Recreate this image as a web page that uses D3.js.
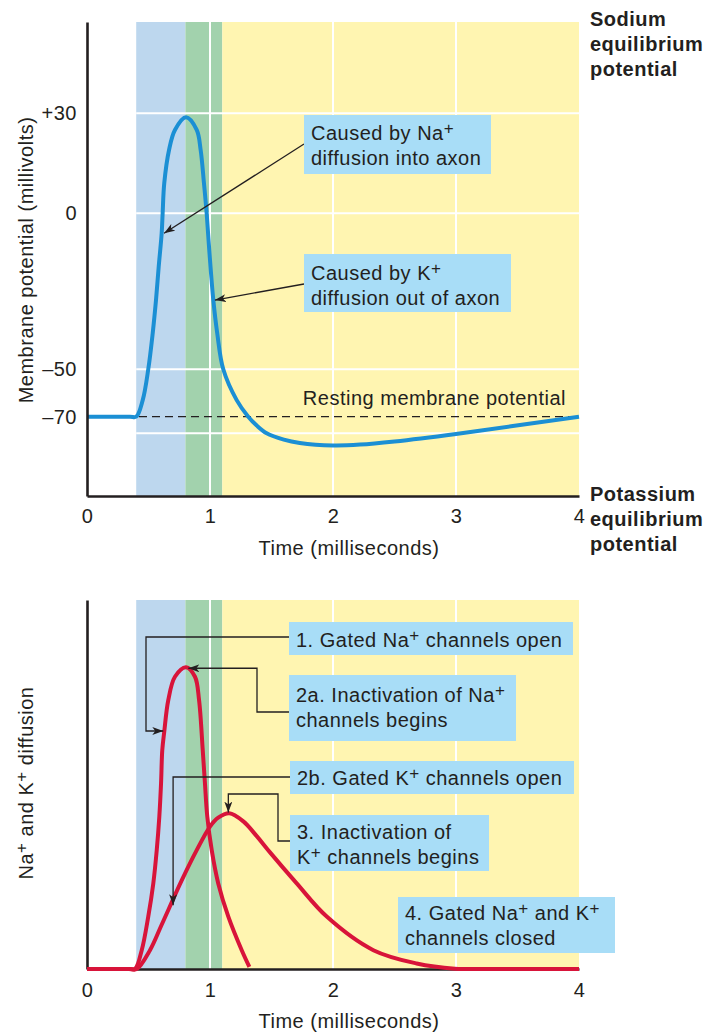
<!DOCTYPE html>
<html>
<head>
<meta charset="utf-8">
<script src="https://cdn.jsdelivr.net/npm/d3@7"></script>
<style>
  body { margin: 0; background: #fff; }
  svg { display: block; font-family: "Liberation Sans", Arial, Helvetica, sans-serif; }
  text { fill: #231f20; letter-spacing: 0.5px; }
</style>
</head>
<body>
<svg id="chart" width="722" height="1032"></svg>
<script>
// ---- data ----
var timeTicks = [0, 1, 2, 3, 4];
var timeGrid = [1, 2, 3];
var bandStart = [0.4, 0.8, 1.1];
var bandEnd = [0.8, 1.1, 4];

var mvTicks = [30, 0, -50, -70];
var mvTickLabels = ["+30", "0", "\u201350", "\u201370"];
var mvGrid = [30, 0, -50, -80];
var restingMv = -70;

// action potential (ms, mV)
var apTime = [0, 0.35, 0.4, 0.453, 0.498, 0.534, 0.561, 0.583, 0.607, 0.615, 0.628, 0.667, 0.715, 0.805,
              0.892, 0.924, 0.951, 0.973, 0.994, 1.027, 1.059, 1.108, 1.217, 1.311, 1.38, 1.461, 1.6, 1.73, 2.0, 2.22, 2.5, 3.0, 4.0];
var apMv = [-70, -70, -70, -63, -50, -38.5, -27.8, -17.1, -6.4, 0, 9, 19, 25, 28.8,
            25, 19, 9, 0, -11.8, -27.8, -38.5, -50, -63, -70, -75.3, -80, -83, -84.6, -85.8, -85.4, -83.9, -80.3, -70];

// Na+ diffusion (relative units 0-100)
var naTime = [0, 0.34, 0.39, 0.445, 0.498, 0.539, 0.567, 0.588, 0.602, 0.612, 0.628, 0.661, 0.715, 0.805,
              0.878, 0.911, 0.941, 0.959, 0.978, 1.014, 1.067, 1.149, 1.258, 1.32];
var naFlow = [0, 0, 0, 5.1, 14.2, 23.2, 32.2, 41.3, 50.3, 59.3, 64.3, 72.9, 79.2, 81.8,
              79.2, 72.9, 59.3, 50.3, 41.3, 32.2, 23.2, 14.2, 5.1, 0.6];

// K+ diffusion (relative units 0-100)
var kTime = [0, 0.35, 0.404, 0.512, 0.607, 0.77, 0.892, 1.0, 1.067, 1.157, 1.271, 1.38, 1.488, 1.705, 1.949, 2.328, 2.68, 2.99, 3.3, 4.0];
var kFlow = [0, 0, 0, 5.1, 12.0, 24.0, 32.2, 38.6, 41.0, 42.2, 40.0, 36.0, 31.6, 23.2, 14.2, 5.1, 1.5, 0.1, 0, 0];

// ---- styles ----
var ink = "#231f20";
var bandColors = ["#bdd7ee", "#a2d2ad", "#fff5b1"];
var boxColor = "#a8ddf7";
var blue = "#1b8fd4";
var red = "#d8143a";

var svg = d3.select("#chart");
svg.append("rect").attr("width", 722).attr("height", 1032).attr("fill", "#fff");

var defs = svg.append("defs");
defs.append("marker").attr("id", "arrow").attr("markerUnits", "userSpaceOnUse")
  .attr("markerWidth", 12).attr("markerHeight", 8).attr("refX", 11).attr("refY", 4)
  .attr("orient", "auto")
  .append("path").attr("d", "M0,0 L11,4 L0,8 L3,4 Z").attr("fill", ink);

// scales
var x = d3.scaleLinear().domain([0, 4]).range([87, 579]);
// the voltage axis is schematic: tick spacing is not uniform
var yTop = d3.scaleLinear().domain([-110, -80, -70, -50, 0, 30, 57]).range([496, 433.3, 416.7, 369.3, 213.3, 113.3, 22]);
var yBot = d3.scaleLinear().domain([0, 100]).range([969, 600]);

var bands = bandStart.map(function (s, i) { return { s: s, e: bandEnd[i], c: bandColors[i] }; });

// "^+" marks a raised plus sign
function richText(sel, str) {
  var parts = str.split("^+");
  var shift = 0;
  parts.forEach(function (p, i) {
    if (p) {
      var t = sel.append("tspan").text(p);
      if (shift) t.attr("dy", shift);
      shift = 0;
    }
    if (i < parts.length - 1) {
      sel.append("tspan").attr("dy", -6).attr("font-size", 17).text("+");
      shift = 6;
    }
  });
}

function drawPanel(y, gridY) {
  var g = svg.append("g");
  var r = y.range(), top = r[r.length - 1], bottom = r[0];
  g.selectAll("rect.band").data(bands).enter().append("rect")
    .attr("x", function (d) { return x(d.s); })
    .attr("width", function (d) { return x(d.e) - x(d.s); })
    .attr("y", top)
    .attr("height", bottom - top)
    .attr("fill", function (d) { return d.c; });

  g.selectAll("line.vgrid").data(timeGrid).enter().append("line")
    .attr("x1", x).attr("x2", x)
    .attr("y1", top).attr("y2", bottom)
    .attr("stroke", "#fff").attr("stroke-width", 2);

  g.selectAll("line.hgrid").data(gridY).enter().append("line")
    .attr("x1", x(bandStart[0])).attr("x2", x(4))
    .attr("y1", y).attr("y2", y)
    .attr("stroke", "#fff").attr("stroke-width", 2);
  return g;
}

function styleAxis(a) {
  a.select(".domain").attr("stroke", ink).attr("stroke-width", 2.6);
  a.selectAll("text").attr("font-size", 20).attr("font-family", null).attr("fill", ink);
}

// ================= top panel =================
var gTop = drawPanel(yTop, mvGrid);

gTop.append("line")
  .attr("x1", x(0)).attr("x2", x(4))
  .attr("y1", yTop(restingMv)).attr("y2", yTop(restingMv))
  .attr("stroke", ink).attr("stroke-width", 1.3).attr("stroke-dasharray", "8,5");

gTop.append("text").attr("x", 566).attr("y", 405).attr("text-anchor", "end")
  .attr("font-size", 20).text("Resting membrane potential");

var lineTop = d3.line().x(function (d) { return x(d[0]); }).y(function (d) { return yTop(d[1]); })
  .curve(d3.curveCatmullRom.alpha(0.5));
gTop.append("path").datum(apTime.map(function (t, i) { return [t, apMv[i]]; }))
  .attr("d", lineTop).attr("fill", "none").attr("stroke", blue).attr("stroke-width", 4);

var axTopL = gTop.append("g").attr("transform", "translate(" + x(0) + ",0)")
  .call(d3.axisLeft(yTop).tickValues(mvTicks).tickFormat(function (d, i) { return mvTickLabels[i]; })
    .tickSize(0).tickPadding(10));
var axTopB = gTop.append("g").attr("transform", "translate(0," + yTop(-110) + ")")
  .call(d3.axisBottom(x).tickValues(timeTicks).tickFormat(d3.format("d")).tickSize(0).tickPadding(13));
styleAxis(axTopL);
styleAxis(axTopB);

gTop.append("text").attr("transform", "translate(33,260) rotate(-90)").attr("text-anchor", "middle")
  .attr("font-size", 20).text("Membrane potential (millivolts)");
gTop.append("text").attr("x", 349).attr("y", 555).attr("text-anchor", "middle")
  .attr("font-size", 20).text("Time (milliseconds)");

var sideLabels = [
  { lines: ["Sodium", "equilibrium", "potential"], y: 26 },
  { lines: ["Potassium", "equilibrium", "potential"], y: 501 }
];
sideLabels.forEach(function (s) {
  s.lines.forEach(function (l, i) {
    svg.append("text").attr("x", 590).attr("y", s.y + i * 25).attr("font-size", 20)
      .attr("font-weight", "bold").text(l);
  });
});

// ================= bottom panel =================
var gBot = drawPanel(yBot, []);

var axBotL = gBot.append("g").attr("transform", "translate(" + x(0) + ",0)")
  .call(d3.axisLeft(yBot).tickValues([]).tickSize(0));
var axBotB = gBot.append("g").attr("transform", "translate(0," + yBot(0) + ")")
  .call(d3.axisBottom(x).tickValues(timeTicks).tickFormat(d3.format("d")).tickSize(0).tickPadding(14));
styleAxis(axBotL);
styleAxis(axBotB);

var lineBot = d3.line().x(function (d) { return x(d[0]); }).y(function (d) { return yBot(d[1]); })
  .curve(d3.curveCatmullRom.alpha(0.5));
gBot.append("path").datum(kTime.map(function (t, i) { return [t, kFlow[i]]; }))
  .attr("d", lineBot).attr("fill", "none").attr("stroke", red).attr("stroke-width", 4);
gBot.append("path").datum(naTime.map(function (t, i) { return [t, naFlow[i]]; }))
  .attr("d", lineBot).attr("fill", "none").attr("stroke", red).attr("stroke-width", 4);

var yTitle = gBot.append("text").attr("transform", "translate(33,783) rotate(-90)")
  .attr("text-anchor", "middle").attr("font-size", 20);
richText(yTitle, "Na^+ and K^+ diffusion");
gBot.append("text").attr("x", 349).attr("y", 1028).attr("text-anchor", "middle")
  .attr("font-size", 20).text("Time (milliseconds)");

// ================= annotations =================
// box: [left, top, right, bottom] in page pixels, tip in data units
var notes = [
  { panel: "top", box: [304, 115, 491, 174], base: 140, lines: ["Caused by Na^+", "diffusion into axon"],
    start: [304, 144], route: [], tip: [0.627, -6.4] },
  { panel: "top", box: [304, 254, 511, 312], base: 280, lines: ["Caused by K^+", "diffusion out of axon"],
    start: [304, 284], route: [], tip: [1.04, -27.8] },
  { panel: "bot", box: [289, 622, 573, 655], base: 647, lines: ["1. Gated Na^+ channels open"],
    start: [289, 637], route: [["H", 146], ["V", "tip"]], tip: [0.62, 64.5] },
  { panel: "bot", box: [289, 675, 516, 741], base: 702, lines: ["2a. Inactivation of Na^+", "channels begins"],
    start: [289, 712], route: [["H", 257], ["V", "tip"]], tip: [0.824, 81.5] },
  { panel: "bot", box: [290, 761, 574, 794], base: 785, lines: ["2b. Gated K^+ channels open"],
    start: [290, 777], route: [["H", "tip"]], tip: [0.70, 17.3] },
  { panel: "bot", box: [290, 815, 489, 871], base: 839, lines: ["3. Inactivation of", "K^+ channels begins"],
    start: [290, 841], route: [["H", 278], ["V", 794], ["H", "tip"]], tip: [1.149, 42.4] },
  { panel: "bot", box: [398, 897, 615, 953], base: 920, lines: ["4. Gated Na^+ and K^+", "channels closed"],
    start: null }
];

var gNotes = svg.append("g");
notes.forEach(function (n) {
  if (n.start) {
    var yS = n.panel === "top" ? yTop : yBot;
    var tx = x(n.tip[0]), ty = yS(n.tip[1]);
    var pts = [n.start.slice()];
    var cur = n.start.slice();
    n.route.forEach(function (r) {
      if (r[0] === "H") cur = [r[1] === "tip" ? tx : r[1], cur[1]];
      else cur = [cur[0], r[1] === "tip" ? ty : r[1]];
      pts.push(cur.slice());
    });
    pts.push([tx, ty]);
    gNotes.append("path").attr("d", d3.line()(pts)).attr("fill", "none")
      .attr("stroke", ink).attr("stroke-width", 1.3).attr("marker-end", "url(#arrow)");
  }
  gNotes.append("rect").attr("x", n.box[0]).attr("y", n.box[1])
    .attr("width", n.box[2] - n.box[0]).attr("height", n.box[3] - n.box[1]).attr("fill", boxColor);
  n.lines.forEach(function (l, i) {
    var t = gNotes.append("text").attr("x", n.box[0] + 7).attr("y", n.base + i * 25).attr("font-size", 20);
    richText(t, l);
  });
});
</script>
</body>
</html>
